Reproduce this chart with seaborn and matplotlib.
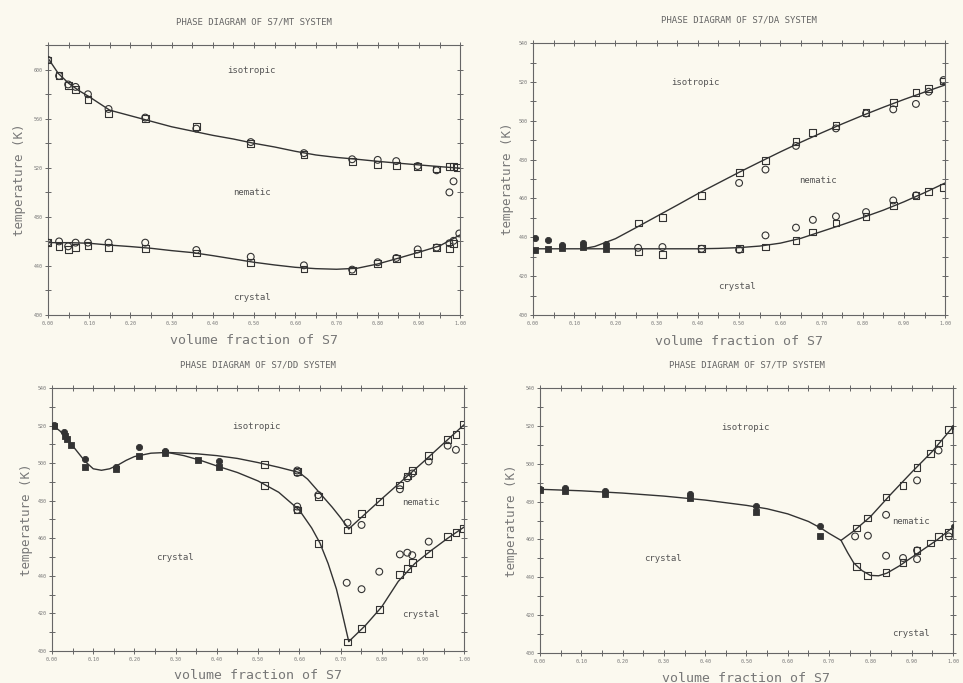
import matplotlib
matplotlib.use("Agg")
import matplotlib.pyplot as plt
import seaborn as sns
import pandas as pd
from matplotlib.ticker import MultipleLocator, FormatStrFormatter

sns.set_theme(style="white")
plt.rcParams['font.family'] = ['DejaVu Sans Mono', 'DejaVu Sans']

# ---------------- S7/MT ----------------
mt_iso_sq_x = [0.0, 0.027, 0.049, 0.067, 0.097, 0.147, 0.236, 0.36, 0.492, 0.621, 0.738, 0.80, 0.845, 0.897, 0.943, 0.974, 0.984, 0.994]
mt_iso_sq_T = [608, 595, 587, 584, 576, 564, 560, 554, 540, 531, 525, 523, 522, 521, 519, 521, 521, 520]
mt_iso_ci_x = [0.0, 0.027, 0.049, 0.067, 0.097, 0.147, 0.236, 0.36, 0.492, 0.621, 0.738, 0.80, 0.845, 0.897, 0.943, 0.974, 0.984]
mt_iso_ci_T = [608, 595, 588, 586, 580, 568, 561, 552, 541, 532, 527, 526.5, 525.5, 521.5, 518, 500, 509]
mt_nem_sq_x = [0.0, 0.027, 0.049, 0.067, 0.097, 0.147, 0.236, 0.36, 0.492, 0.621, 0.738, 0.80, 0.845, 0.897, 0.943, 0.974, 0.984]
mt_nem_sq_T = [459, 456, 453.5, 455, 457, 455, 454.5, 450.5, 442.5, 437.5, 436.5, 442, 446, 450, 455, 454.5, 458.5]
mt_nem_ci_x = [0.0, 0.027, 0.049, 0.067, 0.097, 0.147, 0.236, 0.36, 0.492, 0.621, 0.738, 0.80, 0.845, 0.897, 0.943, 0.974, 0.984, 0.998]
mt_nem_ci_T = [459, 460, 456, 459, 459, 459, 459, 453, 447.5, 440.5, 437, 443, 446.5, 453.5, 455, 458.5, 460.5, 466.5]
mt_up_x = [0, 0.025, 0.05, 0.075, 0.1, 0.15, 0.2, 0.25, 0.3, 0.35, 0.4, 0.45, 0.5, 0.55, 0.6, 0.65, 0.7, 0.75, 0.8, 0.85, 0.9, 0.95, 1.0]
mt_up_T = [609.5, 597, 589, 583, 578, 567, 562.5, 558, 553.5, 550, 546.5, 543.5, 540, 537, 533.5, 530.5, 528.5, 527, 525.3, 523.8, 522.4, 521, 519.7]
mt_lo_x = [0, 0.05, 0.1, 0.15, 0.2, 0.25, 0.3, 0.35, 0.4, 0.45, 0.5, 0.55, 0.6, 0.65, 0.7, 0.75, 0.8, 0.85, 0.9, 0.95, 1.0]
mt_lo_T = [459, 459, 458.5, 457, 455.8, 454.4, 452.5, 450.9, 448.4, 445.7, 443, 440.8, 438.9, 437.8, 437.3, 438.1, 441.6, 446.3, 451.2, 456.3, 465.3]

# ---------------- S7/DA ----------------
da_fill_x = [0.006, 0.036, 0.071, 0.121, 0.178]
da_fill_ci_T = [439.5, 438.5, 436.3, 437.3, 436.8]
da_fill_sq_T = [433.6, 434.1, 434.6, 435.0, 434.1]
da_sq_x = [0.255, 0.314, 0.409, 0.50, 0.564, 0.638, 0.679, 0.735, 0.808, 0.874, 0.929, 0.96, 0.996]
da_iso_sq_T = [447.4, 450.1, 461.6, 473.4, 479.7, 489.2, 493.9, 497.8, 504.2, 509.4, 514.5, 516.8, 520.5]
da_nem_sq_T = [432.9, 431.2, 434.1, 434.1, 435.0, 438.4, 442.7, 447.4, 450.8, 456.5, 461.6, 463.4, 465.6]
da_iso_ci_x = [0.5, 0.564, 0.638, 0.735, 0.808, 0.874, 0.929, 0.96, 0.996]
da_iso_ci_T = [468, 474.9, 487.1, 496.1, 503.8, 505.9, 508.7, 515, 521]
da_nem_ci_x = [0.255, 0.314, 0.409, 0.50, 0.564, 0.638, 0.679, 0.735, 0.808, 0.874, 0.929]
da_nem_ci_T = [434.6, 435.0, 434.1, 433.6, 441, 445, 449, 450.8, 453, 459, 461.6]
da_up_x = [0.12, 0.15, 0.2, 0.25, 0.3, 0.35, 0.4, 0.45, 0.5, 0.55, 0.6, 0.65, 0.7, 0.75, 0.8, 0.85, 0.9, 0.95, 1.0]
da_up_T = [434.1, 435.3, 439.3, 445, 450.8, 456.6, 462.5, 468, 473.5, 478.8, 484, 489, 493.8, 498.4, 502.8, 507, 511, 514.8, 518.5]
da_lo_x = [0, 0.1, 0.2, 0.3, 0.4, 0.45, 0.5, 0.55, 0.6, 0.65, 0.7, 0.75, 0.8, 0.85, 0.9, 0.95, 1.0]
da_lo_T = [434.1, 434.1, 434.1, 434.1, 434.1, 434.3, 434.7, 435.5, 437, 439.5, 443, 446.5, 450.2, 454, 458.3, 463, 468]

# ---------------- S7/DD ----------------
dd_fill_ci_x = [0.004, 0.03, 0.079, 0.156, 0.21, 0.275, 0.405]
dd_fill_ci_T = [520.5, 516.4, 502.1, 498.2, 508.4, 506.2, 501.4]
dd_fill_sq_x = [0.004, 0.032, 0.036, 0.046, 0.079, 0.156, 0.21, 0.275, 0.355, 0.405]
dd_fill_sq_T = [520, 514.2, 513, 509.8, 498.2, 497, 503.9, 505.3, 501.8, 497.9]
dd_sq_x = [0.515, 0.595, 0.646, 0.717, 0.751, 0.794, 0.844, 0.862, 0.874, 0.914, 0.96, 0.98, 0.998]
dd_up_sq_T = [499.1, 495.5, 482.2, 464.4, 473.3, 479.5, 488.4, 493.2, 495.9, 503.9, 512.8, 515.1, 520.5]
dd_lo_sq_T = [488, 475.1, 457.3, 404.8, 411.9, 422, 440.9, 443.9, 447, 452, 460.9, 463, 465.3]
dd_up_ci_x = [0.595, 0.595, 0.646, 0.717, 0.751, 0.844, 0.862, 0.874, 0.914, 0.96, 0.98]
dd_up_ci_T = [496.1, 494.8, 483, 468.3, 467.1, 486.1, 492, 494.5, 500.9, 509.3, 507.1]
dd_lo_ci_x = [0.595, 0.595, 0.715, 0.751, 0.794, 0.844, 0.862, 0.874, 0.914]
dd_lo_ci_T = [476.9, 475.1, 436.3, 432.9, 442.2, 451.4, 452.3, 451, 458.2]
dd_left_x = [0, 0.02, 0.04, 0.06, 0.08, 0.10, 0.12, 0.14, 0.16, 0.18, 0.20, 0.24, 0.28]
dd_left_T = [520.5, 517, 512, 506.5, 501, 497, 496.2, 497, 499, 501.5, 503.5, 505.3, 505.7]
dd_up_x = [0.28, 0.35, 0.4, 0.45, 0.5, 0.55, 0.6, 0.62, 0.65, 0.68, 0.7, 0.72]
dd_up_T = [505.7, 505, 504, 502.5, 500.3, 497.8, 495, 491.5, 484, 476.5, 471, 465]
dd_lo_x = [0.28, 0.32, 0.36, 0.4, 0.45, 0.5, 0.55, 0.6, 0.63, 0.65, 0.67, 0.69, 0.70, 0.71, 0.72]
dd_lo_T = [505.7, 504, 501.5, 498.5, 495, 490.5, 484.5, 475, 465.5, 457.5, 446.5, 433, 424, 414.5, 405]
dd_ni_x = [0.72, 0.8, 0.9, 1.0]
dd_ni_T = [465, 481, 500.5, 520.5]
dd_nc_x = [0.72, 0.76, 0.8, 0.84, 0.88, 0.92, 0.96, 1.0]
dd_nc_T = [405, 413.5, 423.5, 437, 446.5, 453.5, 460, 466]

# ---------------- S7/TP ----------------
tp_fill_x = [0.0, 0.061, 0.158, 0.364, 0.523, 0.679]
tp_fill_ci_T = [486.6, 487.1, 485.4, 484.2, 477.5, 467.3]
tp_fill_sq_T = [486.0, 485.4, 484.2, 481.9, 474.3, 461.6]
tp_sq_x = [0.766, 0.794, 0.838, 0.879, 0.913, 0.945, 0.965, 0.99]
tp_up_sq_T = [466, 471.3, 482.4, 488.4, 498.2, 505.6, 510.9, 518]
tp_lo_sq_T = [445.8, 440.8, 442.6, 447.9, 454.2, 458.1, 461.6, 463.7]
tp_up_ci_x = [0.763, 0.794, 0.838, 0.913, 0.965]
tp_up_ci_T = [461.6, 462, 473, 491.2, 507]
tp_lo_ci_x = [0.838, 0.879, 0.913, 0.913, 0.99]
tp_lo_ci_T = [451.4, 450.2, 449.6, 454.2, 461.6]
tp_end_x = [1.0, 1.0]
tp_end_T = [519.5, 466.9]
tp_left_x = [0, 0.1, 0.2, 0.3, 0.4, 0.5, 0.55, 0.6, 0.65, 0.68, 0.7, 0.729]
tp_left_T = [486.5, 485.7, 484.5, 482.9, 480.8, 478, 476.2, 473.5, 469.5, 466, 463.2, 459.5]
tp_up_x = [0.729, 0.76, 0.8, 0.85, 0.9, 0.95, 1.0]
tp_up_T = [459.5, 464.5, 472, 484, 495.5, 506.5, 519.5]
tp_lo_x = [0.729, 0.745, 0.76, 0.78, 0.8, 0.82, 0.84, 0.87, 0.9, 0.93, 0.96, 1.0]
tp_lo_T = [459.5, 453, 447.5, 443.5, 441, 440.8, 442.2, 446, 450.5, 455, 459.5, 466.5]

titles = ["PHASE DIAGRAM OF S7/MT SYSTEM", "PHASE DIAGRAM OF S7/DA SYSTEM",
          "PHASE DIAGRAM OF S7/DD SYSTEM", "PHASE DIAGRAM OF S7/TP SYSTEM"]
xlabel_text = "volume fraction of S7"
ylabel_text = "temperature (K)"

BG = '#fbf9ef'
INK = '#333333'
TXT = '#777777'

fig = plt.figure(figsize=(9.63, 6.83), dpi=100, facecolor=BG)
rects = [[0.0498, 0.5388, 0.428, 0.395], [0.5535, 0.5388, 0.428, 0.398],
         [0.054, 0.0469, 0.428, 0.385], [0.5607, 0.0439, 0.4289, 0.388]]
axes = [fig.add_axes(r) for r in rects]


def curve(ax, x, y):
    sns.lineplot(x=x, y=y, ax=ax, color=INK, lw=1.0, sort=False, estimator=None)


def pts(ax, x, y, marker, filled, s=24):
    if filled:
        sns.scatterplot(x=x, y=y, ax=ax, marker=marker, s=s, color=INK,
                        edgecolor=INK, linewidth=0.6, zorder=4)
    else:
        sns.scatterplot(x=x, y=y, ax=ax, marker=marker, s=s, facecolors='none',
                        edgecolor=INK, linewidth=0.8, zorder=4)


# Panel MT
ax = axes[0]
curve(ax, mt_up_x, mt_up_T)
curve(ax, mt_lo_x, mt_lo_T)
pts(ax, mt_iso_sq_x, mt_iso_sq_T, 's', False)
pts(ax, mt_iso_ci_x, mt_iso_ci_T, 'o', False)
pts(ax, mt_nem_sq_x, mt_nem_sq_T, 's', False)
pts(ax, mt_nem_ci_x, mt_nem_ci_T, 'o', False)

# Panel DA
ax = axes[1]
curve(ax, da_up_x, da_up_T)
curve(ax, da_lo_x, da_lo_T)
pts(ax, da_fill_x, da_fill_ci_T, 'o', True, s=20)
pts(ax, da_fill_x, da_fill_sq_T, 's', True, s=22)
pts(ax, da_sq_x, da_iso_sq_T, 's', False)
pts(ax, da_sq_x, da_nem_sq_T, 's', False)
pts(ax, da_iso_ci_x, da_iso_ci_T, 'o', False)
pts(ax, da_nem_ci_x, da_nem_ci_T, 'o', False)

# Panel DD
ax = axes[2]
curve(ax, dd_left_x, dd_left_T)
curve(ax, dd_up_x, dd_up_T)
curve(ax, dd_lo_x, dd_lo_T)
curve(ax, dd_ni_x, dd_ni_T)
curve(ax, dd_nc_x, dd_nc_T)
pts(ax, dd_fill_ci_x, dd_fill_ci_T, 'o', True, s=20)
pts(ax, dd_fill_sq_x, dd_fill_sq_T, 's', True, s=22)
pts(ax, dd_sq_x, dd_up_sq_T, 's', False)
pts(ax, dd_sq_x, dd_lo_sq_T, 's', False)
pts(ax, dd_up_ci_x, dd_up_ci_T, 'o', False)
pts(ax, dd_lo_ci_x, dd_lo_ci_T, 'o', False)

# Panel TP
ax = axes[3]
curve(ax, tp_left_x, tp_left_T)
curve(ax, tp_up_x, tp_up_T)
curve(ax, tp_lo_x, tp_lo_T)
pts(ax, tp_fill_x, tp_fill_ci_T, 'o', True, s=20)
pts(ax, tp_fill_x, tp_fill_sq_T, 's', True, s=22)
pts(ax, tp_sq_x, tp_up_sq_T, 's', False)
pts(ax, tp_sq_x, tp_lo_sq_T, 's', False)
pts(ax, tp_up_ci_x, tp_up_ci_T, 'o', False)
pts(ax, tp_lo_ci_x, tp_lo_ci_T, 'o', False)
pts(ax, tp_end_x, tp_end_T, 'o', True, s=8)

# region labels: (panel, x, T, text)
region_labels = [
    (0, 0.494, 599.5, "isotropic"), (0, 0.494, 500, "nematic"), (0, 0.494, 414, "crystal"),
    (1, 0.395, 519.7, "isotropic"), (1, 0.692, 469.4, "nematic"), (1, 0.494, 414.6, "crystal"),
    (2, 0.497, 519.6, "isotropic"), (2, 0.894, 479.2, "nematic"), (2, 0.299, 449.6, "crystal"),
    (2, 0.894, 419.6, "crystal"),
    (3, 0.497, 519.4, "isotropic"), (3, 0.897, 469.5, "nematic"), (3, 0.297, 449.8, "crystal"),
    (3, 0.897, 410.2, "crystal"),
]
for i, x, t, s in region_labels:
    axes[i].text(x, t, s, ha='center', va='center', fontsize=6.5, color='#555555')

ylims = [(400, 620), (400, 540), (400, 540), (400, 540)]
ymajor = [40, 20, 20, 20]
yminor = [20, 10, 10, 10]
ylab_x = [-0.068, -0.061, -0.061, -0.068]
xlab_y = [-0.096, -0.096, -0.095, -0.095]
for i, ax in enumerate(axes):
    ax.set_facecolor(BG)
    ax.set_xlim(0, 1)
    ax.set_ylim(*ylims[i])
    ax.xaxis.set_major_locator(MultipleLocator(0.1))
    ax.xaxis.set_minor_locator(MultipleLocator(0.05))
    ax.yaxis.set_major_locator(MultipleLocator(ymajor[i]))
    ax.yaxis.set_minor_locator(MultipleLocator(yminor[i]))
    ax.xaxis.set_major_formatter(FormatStrFormatter('%.2f'))
    ax.yaxis.set_major_formatter(FormatStrFormatter('%d'))
    ax.tick_params(which='both', direction='inout', length=5, width=0.7,
                   top=True, right=True, bottom=True, left=True, color='#666666',
                   labelsize=3.6, labelcolor=TXT, pad=1.5)
    for sp in ax.spines.values():
        sp.set_visible(True)
        sp.set_color('#666666')
        sp.set_linewidth(0.8)
    ax.set_xlabel(xlabel_text, fontsize=9.5, color=TXT, va='center')
    ax.set_ylabel(ylabel_text, fontsize=9, color=TXT, va='center')
    ax.xaxis.set_label_coords(0.5, xlab_y[i])
    ax.yaxis.set_label_coords(ylab_x[i], 0.5)
    ax.text(0.5, 1.086, titles[i], transform=ax.transAxes, ha='center', va='center',
            fontsize=6.5, color='#666666')

fig.savefig("out.png", dpi=100, facecolor=BG)
